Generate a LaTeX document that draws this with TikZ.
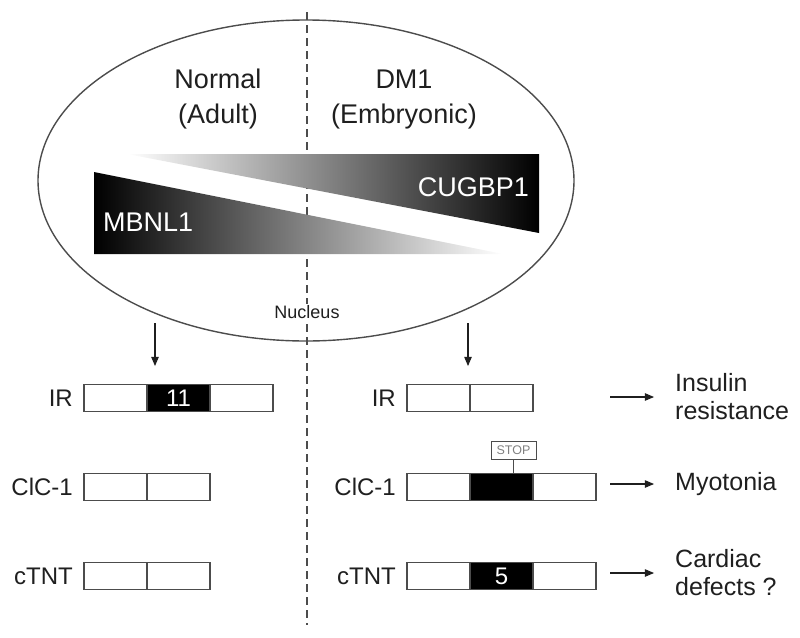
\documentclass[tikz,border=0pt]{standalone}
\usepackage{fontspec}
\setmainfont{Liberation Sans}
\usepackage{tikz}
\usetikzlibrary{arrows,positioning,shapes.geometric}
\definecolor{lineGray}{gray}{0.3}
\definecolor{textGray}{gray}{0.12}

\begin{document}
\begin{tikzpicture} %
		[
			x=1pt, y=-1pt,
			font={\fontsize{24}{28}\selectfont},
			exon/.style={
				draw=lineGray,
				line width=1.5pt,
				minimum width=63pt,
				minimum height=27pt,
				inner sep=0,
				outer sep=0,
				node distance=0pt,
			},
			exonOn/.style={exon, fill=black, text=white},
			gene/.style={text=textGray, inner sep=0, node distance=11pt},
			arch/.style={-triangle 45, line width=1.1pt, textGray},
			effect/.style={anchor=west, align=left, text=textGray, inner sep=0, font={\fontsize{25}{28}\selectfont}},
			groupLabel/.style={align=center, text=textGray, font={\fontsize{27}{35}\selectfont}},
			factor/.style={text=white, inner sep=0, font={\fontsize{27}{30}\selectfont}},
		]
		\useasboundingbox (0,0) rectangle (800,637);
		% divider between the two conditions
		\coordinate (divTop) at (307,12);
		\coordinate (divBottom) at (307,625);
		\draw[lineGray, line width=1.2pt, dash pattern=on 8pt off 5pt] (divTop) -- (divBottom);
		\node[draw=lineGray, line width=1.4pt, ellipse, minimum width=536pt, minimum height=321pt, inner sep=0]
		(nucleus) at (306,180.5) {};
		% opposite gradients
		\shade[left color=white, right color=black] (127,154) -- (539,154) -- (539,233) -- cycle;
		\shade[left color=black, right color=white] (94,172) -- (94,254) -- (503,254) -- cycle;
		\node[factor, anchor=east] (cugbp) at (529,187) {CUGBP1};
		\node[factor, anchor=west] (mbnl) at (103,222) {MBNL1};
		\node[groupLabel] (normal) at (218,99.5) {Normal\\(Adult)};
		\node[groupLabel] (dm) at (404,99.5) {DM1\\(Embryonic)};
		\node[text=textGray, fill=white, inner sep=1pt, font={\fontsize{18}{20}\selectfont}]
		(nucleusLabel) at (307,312) {Nucleus};
		% adult splicing
		\node[exon] (irL1) at (115.5,398) {};
		\node[exonOn, right=of irL1] (irL2) {11};
		\node[exon, right=of irL2] (irL3) {};
		\node[exon] (clcL1) at (115.5,487) {};
		\node[exon, right=of clcL1] (clcL2) {};
		\node[exon] (tntL1) at (115.5,576) {};
		\node[exon, right=of tntL1] (tntL2) {};
		\node[gene, left=of irL1] (irLname) {IR};
		\node[gene, left=of clcL1] (clcLname) {ClC-1};
		\node[gene, left=of tntL1] (tntLname) {cTNT};
		% embryonic splicing
		\node[exon] (irR1) at (438.5,398) {};
		\node[exon, right=of irR1] (irR2) {};
		\node[exon] (clcR1) at (438.5,487) {};
		\node[exonOn, right=of clcR1] (clcR2) {};
		\node[exon, right=of clcR2] (clcR3) {};
		\node[exon] (tntR1) at (438.5,576) {};
		\node[exonOn, right=of tntR1] (tntR2) {5};
		\node[exon, right=of tntR2] (tntR3) {};
		\node[gene, left=of irR1] (irRname) {IR};
		\node[gene, left=of clcR1] (clcRname) {ClC-1};
		\node[gene, left=of tntR1] (tntRname) {cTNT};
		\node[draw=lineGray, line width=1pt, text=gray, inner sep=0, minimum width=45pt, minimum height=18pt,
			font={\fontsize{12.5}{13}\selectfont}]
		(stop) at (513.5,450) {STOP};
		\draw[lineGray, line width=1pt] (stop.south) -- (stop.south |- clcR2.north);
		% outcomes
		\node[effect] (irEffect) at (675,397) {Insulin\\resistance};
		\node[effect] (clcEffect) at (675,484) {Myotonia};
		\node[effect] (tntEffect) at (675,573) {Cardiac\\defects ?};
		\coordinate (outStart) at (610,0);
		\draw[arch, shorten >=21pt] (outStart |- irEffect.west) -- (irEffect.west);
		\draw[arch, shorten >=21pt] (outStart |- clcEffect.west) -- (clcEffect.west);
		\draw[arch, shorten >=21pt] (outStart |- tntEffect.west) -- (tntEffect.west);
		% from the nucleus down
		\coordinate (adultFrom) at (155,323);
		\coordinate (adultTo) at (155,366);
		\coordinate (embFrom) at (468,323);
		\coordinate (embTo) at (468,366);
		\draw[arch] (adultFrom) -- (adultTo);
		\draw[arch] (embFrom) -- (embTo);
	\end{tikzpicture}
\end{document}
